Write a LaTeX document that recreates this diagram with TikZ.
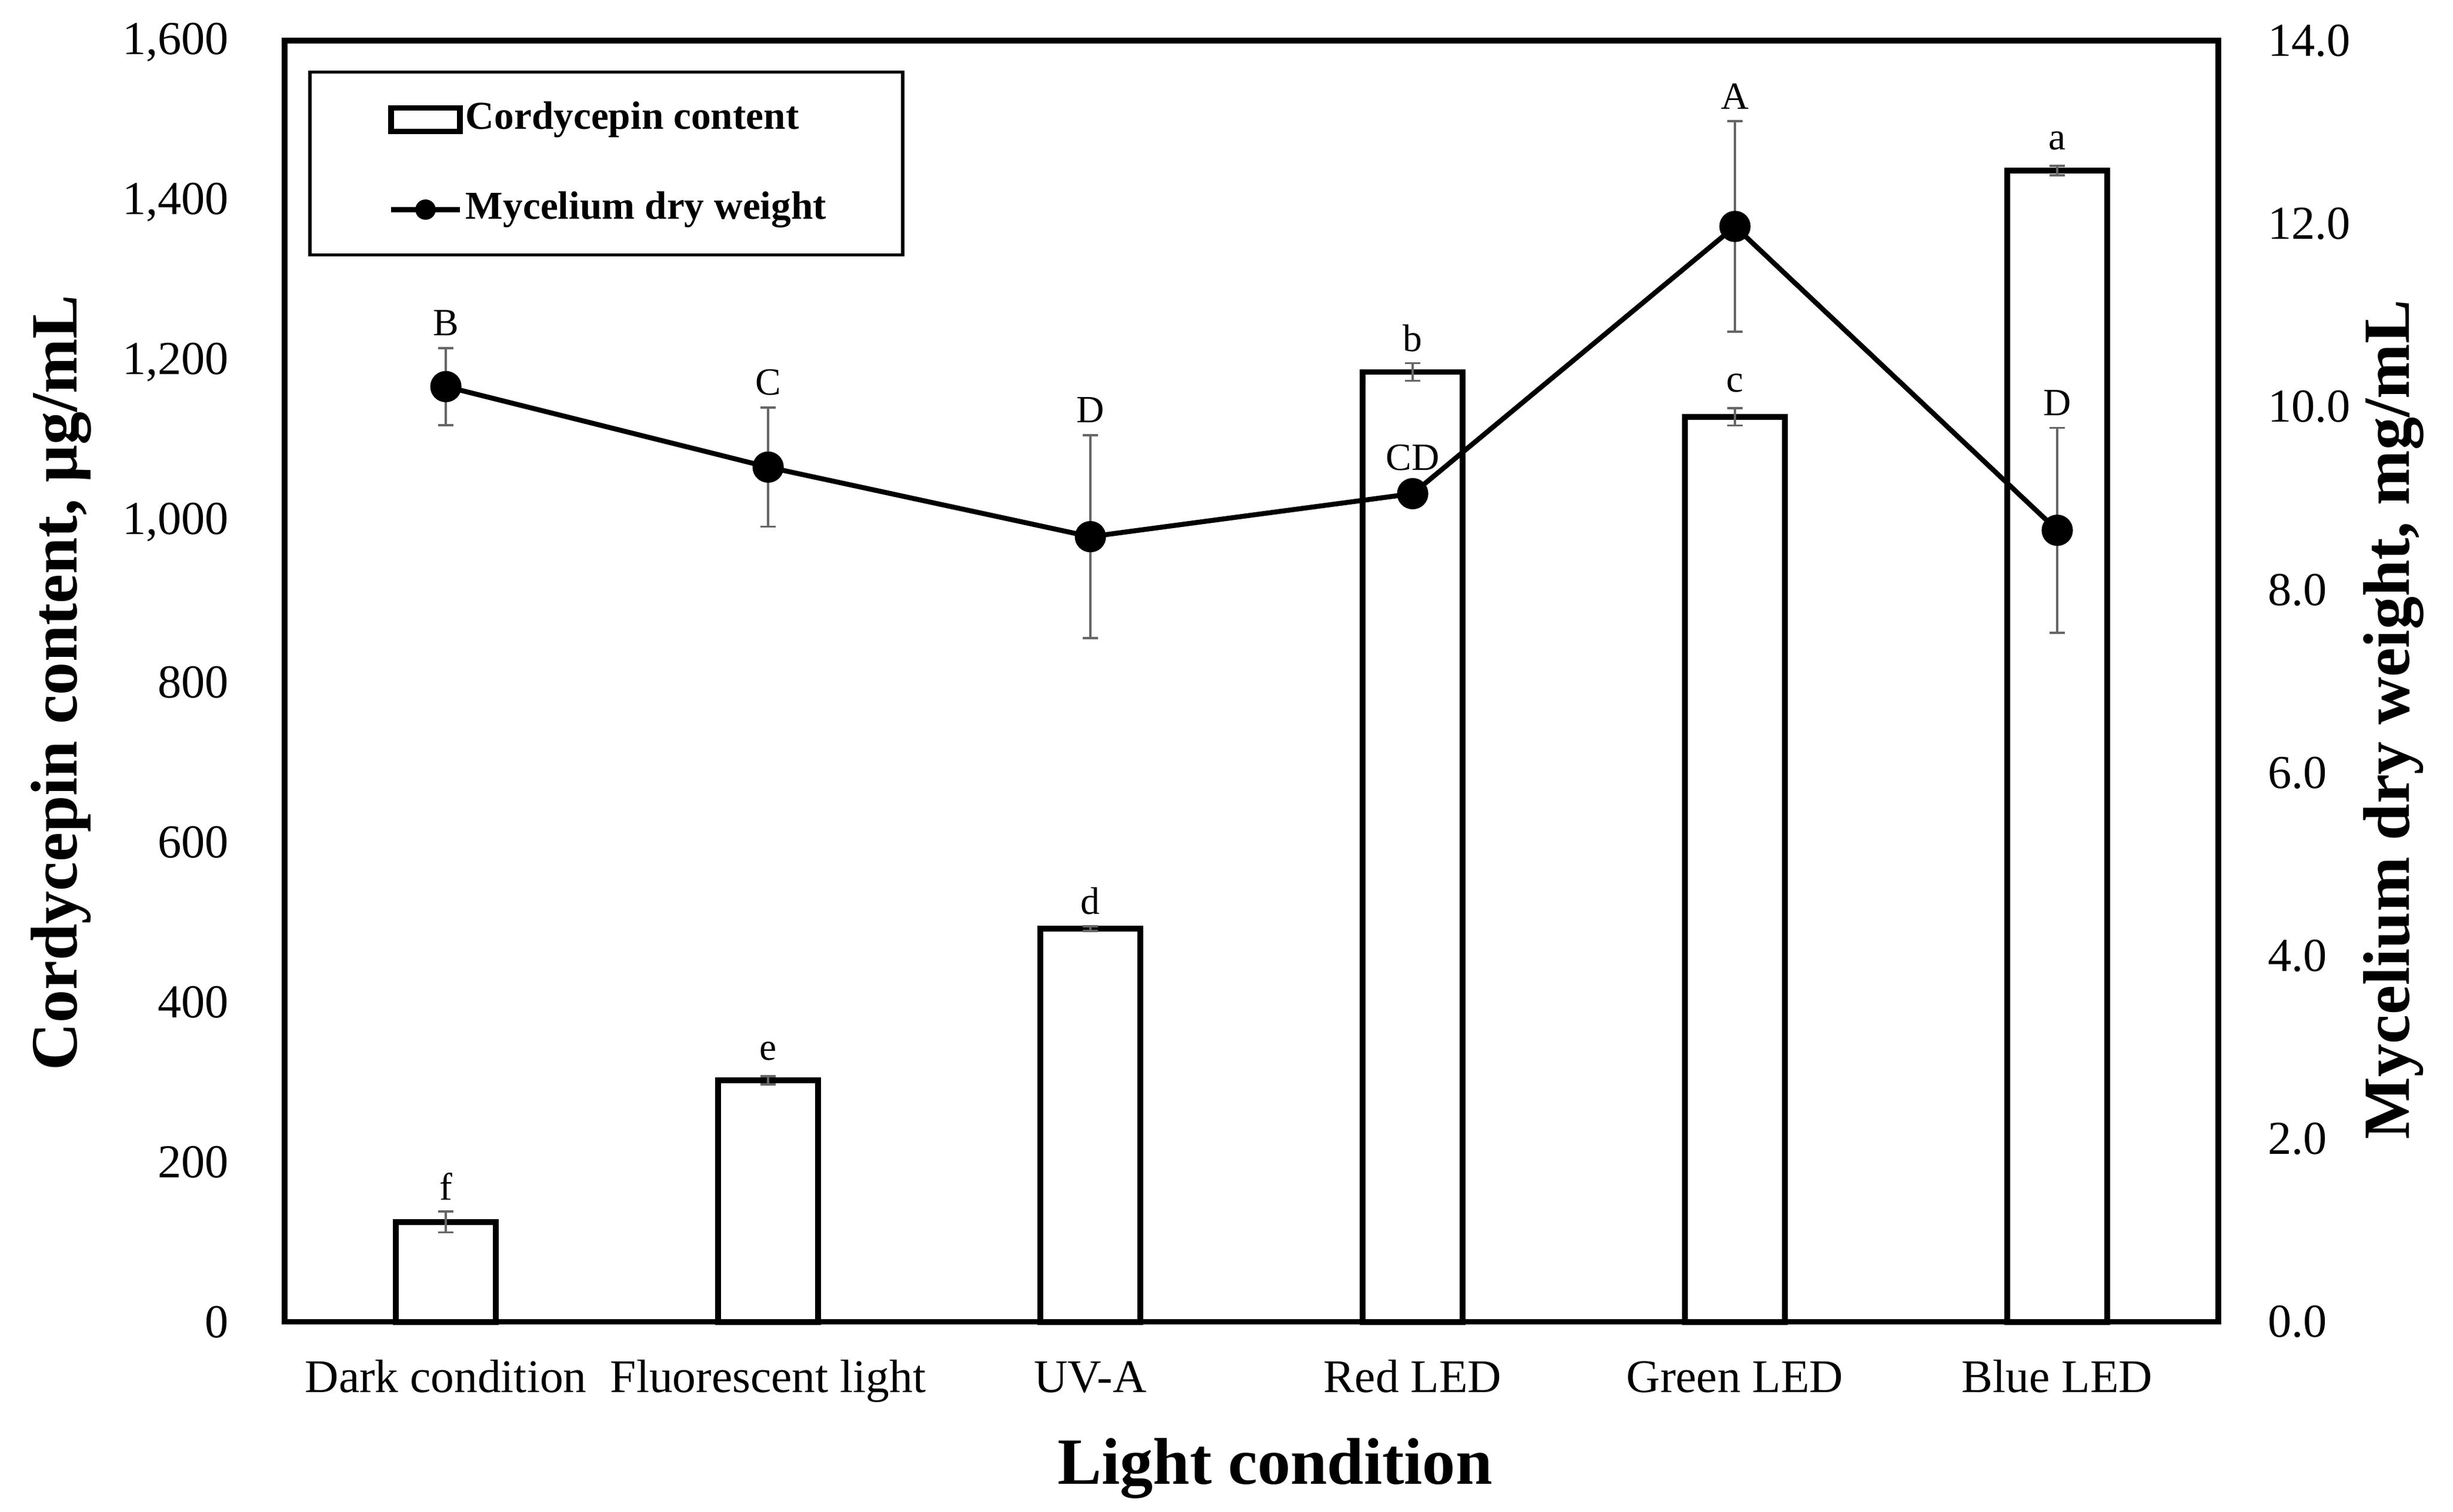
\documentclass[tikz,border=0pt]{standalone}
\usepackage{fontspec}
\setmainfont{Liberation Serif}

\begin{document}
\begin{tikzpicture}[
        ticklab/.style={font=\fontsize{8.6}{10}\selectfont, inner sep=0pt},
        catlab/.style={font=\fontsize{8.5}{10}\selectfont, anchor=base, inner sep=0pt},
        sig/.style={font=\fontsize{7}{8}\selectfont, inner sep=0pt, yshift=0.16cm},
        axtitle/.style={font=\fontsize{12}{14}\selectfont\bfseries, inner sep=0pt},
        legtext/.style={font=\fontsize{7.2}{8}\selectfont\bfseries, anchor=west, inner sep=0pt},
        errbar/.style={draw=black!60, line width=0.4pt},
        barbox/.style={draw=black, fill=white, line width=1.05pt},
        series/.style={line width=0.9pt},
        dot/.style={circle, fill=black, inner sep=0pt, minimum size=2mm}
    ]
            \useasboundingbox (0,0) rectangle (15.68,9.665);

            % frame of the plot area
            \draw[line width=1pt] (1.82,1.215) rectangle (14.18,9.405);

            % left and right axis numbers
            \foreach \v/\t in {0/0,200/200,400/400,600/600,800/800,1000/{1,000},1200/{1,200},1400/{1,400},1600/{1,600}}
                \node[ticklab, anchor=east] (yl\v) at (1.47,{1.215+\v*0.00511875}) {\t};
            \foreach \v in {0,2,...,14}
                \node[ticklab, anchor=west] (yr\v) at (14.49,{1.215+\v*0.585}) {\v.0};

            % bars: cordycepin content
            \begin{scope}[shift={(1.82,1.215)}, x=2.06cm, y=0.00511875cm]
                \foreach \i/\v/\e/\s in {1/125/13/f, 2/302/5/e, 3/492/3/d, 4/1188/11/b, 5/1132/11/c, 6/1440/6/a} {
                    \draw[barbox] (\i-0.655,0) rectangle (\i-0.345,\v);
                    \draw[errbar] (\i-0.5,\v-\e) -- (\i-0.5,\v+\e)
                        (\i-0.5,\v-\e) ++(-0.05cm,0) -- ++(0.1cm,0)
                        (\i-0.5,\v+\e) ++(-0.05cm,0) -- ++(0.1cm,0);
                    \node[sig] (bs\i) at (\i-0.5,\v+\e) {\s};
                }
            \end{scope}

            % line: mycelium dry weight
            \begin{scope}[shift={(1.82,1.215)}, x=2.06cm, y=0.585cm]
                \foreach \i/\v/\e/\s in {1/10.22/0.42/B, 2/9.34/0.65/C, 3/8.58/1.11/D, 4/9.05/0.12/CD, 5/11.97/1.15/A, 6/8.65/1.12/D} {
                    \coordinate (m\i) at (\i-0.5,\v);
                    \draw[errbar] (\i-0.5,\v-\e) -- (\i-0.5,\v+\e)
                        (\i-0.5,\v-\e) ++(-0.05cm,0) -- ++(0.1cm,0)
                        (\i-0.5,\v+\e) ++(-0.05cm,0) -- ++(0.1cm,0);
                    \node[sig] (ms\i) at (\i-0.5,\v+\e) {\s};
                }
                \draw[series] (m1) -- (m2) -- (m3) -- (m4) -- (m5) -- (m6);
                \foreach \i in {1,...,6}
                    \node[dot] (d\i) at (m\i) {};
            \end{scope}

            % category names
            \foreach \i/\t in {1/Dark condition, 2/Fluorescent light, 3/UV-A, 4/Red LED, 5/Green LED, 6/Blue LED}
                \node[catlab] (c\i) at ({1.82+2.06*(\i-0.5)},0.765) {\t};

            % axis titles
            \node[axtitle, rotate=90] (ytitle) at (0.39,5.30) {Cordycepin content, μg/mL};
            \node[axtitle, rotate=90] (y2title) at (15.30,5.065) {Mycelium dry weight, mg/mL};
            \node[axtitle, anchor=base] (xtitle) at (8.15,0.18) {Light condition};

            % legend
            \draw[line width=0.6pt] (1.98,8.035) rectangle (5.77,9.205);
            \draw[line width=1pt] (2.50,8.825) rectangle (2.94,8.975);
            \node[legtext] (lg1) at (2.97,8.90) {Cordycepin content};
            \draw[series] (2.50,8.325) -- (2.94,8.325);
            \fill (2.72,8.325) circle (0.065);
            \node[legtext] (lg2) at (2.97,8.325) {Mycelium dry weight};
        \end{tikzpicture}
\end{document}
